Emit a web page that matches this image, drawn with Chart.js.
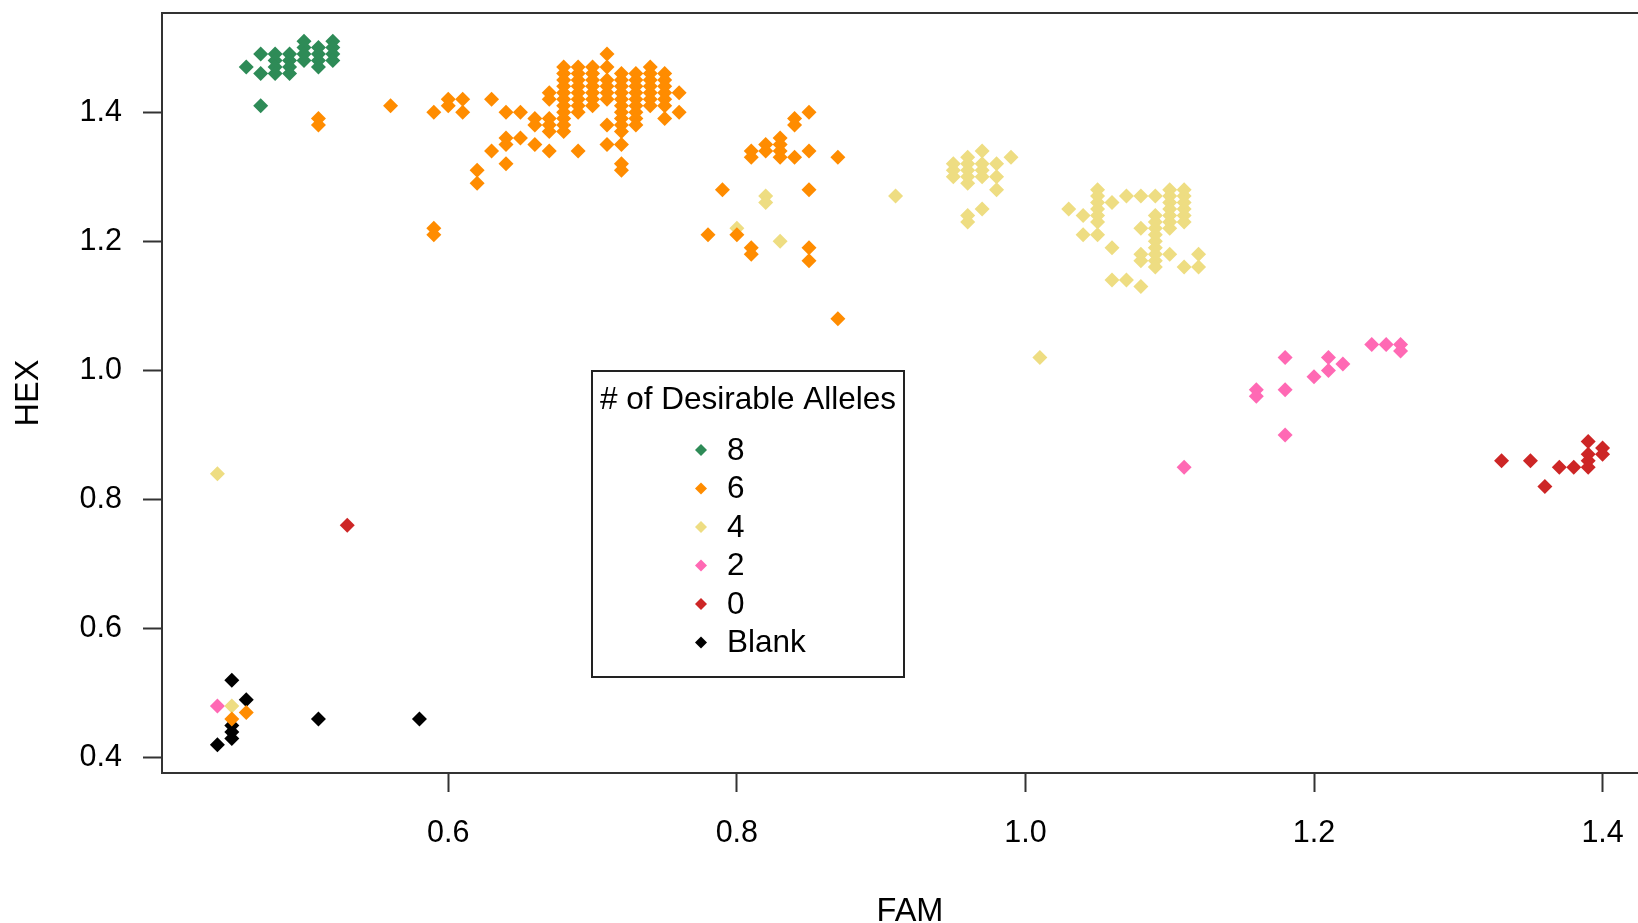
<!DOCTYPE html>
<html><head><meta charset="utf-8">
<script src="https://cdn.jsdelivr.net/npm/chart.js@4.4.0/dist/chart.umd.min.js"></script>
<style>
html,body{margin:0;padding:0;background:#fff;overflow:hidden;width:1638px;height:923px}
#wrap{position:absolute;left:0;top:0;width:1700px;height:923px}
</style>
</head><body><div id="wrap"><canvas id="c" width="1700" height="923"></canvas></div>
<script>
// ---- data (FAM, HEX) ----
const seriesLabels = ['8', '6', '4', '2', '0', 'Blank'];
const seriesColors = ['#2E8B57', '#FF8C00', '#EEDD82', '#FF69B4', '#CD2626', '#000000'];
const legendTitle = '# of Desirable Alleles';
const xTitle = 'FAM';
const yTitle = 'HEX';
const xTicks = [0.6, 0.8, 1.0, 1.2, 1.4];
const yTicks = [0.4, 0.6, 0.8, 1.0, 1.2, 1.4];

const allele8 = [
  [0.46,1.47],[0.47,1.41],[0.47,1.49],[0.47,1.46],
  [0.48,1.49],[0.48,1.48],[0.48,1.47],[0.48,1.46],
  [0.49,1.49],[0.49,1.48],[0.49,1.47],[0.49,1.46],
  [0.50,1.51],[0.50,1.50],[0.50,1.49],[0.50,1.48],
  [0.51,1.50],[0.51,1.49],[0.51,1.48],[0.51,1.47],
  [0.52,1.51],[0.52,1.50],[0.52,1.49],[0.52,1.48]
];
const allele6 = [
  [0.51,1.39],[0.51,1.38],[0.56,1.41],[0.59,1.40],[0.60,1.42],[0.60,1.41],[0.61,1.42],[0.61,1.40],
  [0.59,1.22],[0.59,1.21],[0.63,1.42],[0.64,1.40],[0.65,1.40],[0.62,1.31],[0.62,1.29],[0.63,1.34],
  [0.64,1.36],[0.64,1.35],[0.65,1.36],[0.64,1.32],[0.66,1.39],[0.66,1.38],[0.66,1.35],
  [0.67,1.43],[0.67,1.42],[0.67,1.39],[0.67,1.38],[0.67,1.37],[0.67,1.34],
  [0.68,1.47],[0.68,1.46],[0.68,1.45],[0.68,1.44],[0.68,1.43],[0.68,1.42],[0.68,1.41],[0.68,1.40],[0.68,1.39],[0.68,1.38],[0.68,1.37],
  [0.69,1.47],[0.69,1.46],[0.69,1.45],[0.69,1.44],[0.69,1.43],[0.69,1.42],[0.69,1.41],[0.69,1.40],[0.69,1.34],
  [0.70,1.47],[0.70,1.46],[0.70,1.45],[0.70,1.44],[0.70,1.43],[0.70,1.42],[0.70,1.41],
  [0.71,1.49],[0.71,1.47],[0.71,1.45],[0.71,1.44],[0.71,1.43],[0.71,1.42],[0.71,1.38],[0.71,1.35],
  [0.72,1.46],[0.72,1.45],[0.72,1.44],[0.72,1.43],[0.72,1.42],[0.72,1.41],[0.72,1.40],[0.72,1.39],[0.72,1.38],[0.72,1.37],[0.72,1.35],[0.72,1.32],[0.72,1.31],
  [0.73,1.46],[0.73,1.45],[0.73,1.44],[0.73,1.43],[0.73,1.42],[0.73,1.41],[0.73,1.40],[0.73,1.39],[0.73,1.38],
  [0.74,1.47],[0.74,1.46],[0.74,1.45],[0.74,1.44],[0.74,1.43],[0.74,1.42],[0.74,1.41],
  [0.75,1.46],[0.75,1.45],[0.75,1.44],[0.75,1.43],[0.75,1.42],[0.75,1.41],[0.75,1.39],
  [0.76,1.43],[0.76,1.40],
  [0.85,1.40],[0.84,1.39],[0.84,1.38],[0.83,1.36],[0.83,1.35],[0.83,1.34],[0.83,1.33],[0.82,1.35],[0.82,1.34],
  [0.81,1.34],[0.81,1.33],[0.84,1.33],[0.85,1.34],[0.87,1.33],[0.79,1.28],[0.85,1.28],[0.78,1.21],[0.80,1.21],
  [0.81,1.19],[0.81,1.18],[0.85,1.19],[0.85,1.17],[0.87,1.08],
  [0.46,0.47],[0.45,0.46]
];
const allele4 = [
  [0.44,0.84],[0.45,0.48],[1.01,1.02],
  [0.82,1.27],[0.82,1.26],[0.80,1.22],[0.83,1.20],[0.91,1.27],
  [0.95,1.32],[0.95,1.31],[0.95,1.30],
  [0.96,1.33],[0.96,1.32],[0.96,1.31],[0.96,1.30],[0.96,1.29],
  [0.97,1.34],[0.97,1.32],[0.97,1.31],[0.97,1.30],
  [0.98,1.32],[0.98,1.30],[0.98,1.28],[0.99,1.33],
  [0.96,1.24],[0.96,1.23],[0.97,1.25],
  [1.03,1.25],[1.04,1.24],[1.04,1.21],
  [1.05,1.28],[1.05,1.27],[1.05,1.26],[1.05,1.25],[1.05,1.24],[1.05,1.23],[1.05,1.21],
  [1.06,1.26],[1.06,1.19],[1.07,1.27],[1.08,1.27],[1.08,1.22],[1.09,1.27],
  [1.09,1.24],[1.09,1.23],[1.09,1.22],[1.09,1.21],[1.09,1.20],[1.09,1.19],[1.09,1.18],[1.09,1.17],[1.09,1.16],
  [1.10,1.28],[1.10,1.27],[1.10,1.26],[1.10,1.25],[1.10,1.24],[1.10,1.23],[1.10,1.22],
  [1.11,1.28],[1.11,1.27],[1.11,1.26],[1.11,1.25],[1.11,1.24],[1.11,1.23],
  [1.10,1.18],[1.08,1.18],[1.08,1.17],
  [1.06,1.14],[1.07,1.14],[1.08,1.13],
  [1.12,1.18],[1.12,1.16],[1.11,1.16]
];
const allele2 = [
  [0.44,0.48],[1.11,0.85],[1.16,0.97],[1.16,0.96],[1.18,1.02],[1.18,0.97],[1.18,0.90],
  [1.20,0.99],[1.21,1.02],[1.21,1.00],[1.22,1.01],[1.24,1.04],[1.25,1.04],[1.26,1.04],[1.26,1.03]
];
const allele0 = [
  [0.53,0.76],[1.33,0.86],[1.35,0.86],[1.36,0.82],[1.37,0.85],[1.38,0.85],
  [1.39,0.89],[1.39,0.87],[1.39,0.86],[1.39,0.85],[1.40,0.88],[1.40,0.87]
];
const blank = [
  [0.45,0.52],[0.46,0.49],[0.45,0.45],[0.45,0.44],[0.45,0.43],[0.44,0.42],[0.51,0.46],[0.58,0.46]
];
const seriesData = [allele8, allele6, allele4, allele2, allele0, blank];

// R-style axis limits: data range extended by 4%
const allPts = seriesData.flat();
function rng(idx){
  const v = allPts.map(p => p[idx]);
  const lo = Math.min(...v), hi = Math.max(...v), d = (hi - lo) * 0.04;
  return [lo - d, hi + d];
}
const [xMin, xMax] = rng(0);
const [yMin, yMax] = rng(1);

const FONT = '"Liberation Sans", Arial, sans-serif';
const axisColor = '#333';

function diamond(ctx, x, y, r){
  ctx.beginPath();
  ctx.moveTo(x, y - r); ctx.lineTo(x + r, y); ctx.lineTo(x, y + r); ctx.lineTo(x - r, y);
  ctx.closePath(); ctx.fill();
}

const legendPlugin = {
  id: 'alleleLegend',
  afterDraw(chart){
    const ctx = chart.ctx;
    ctx.save();
    ctx.lineWidth = 2; ctx.strokeStyle = '#222';
    ctx.strokeRect(592, 371, 312, 306);
    ctx.fillStyle = '#000';
    ctx.font = '31.5px ' + FONT;
    ctx.textBaseline = 'middle';
    ctx.textAlign = 'center';
    ctx.fillText(legendTitle, 748, 400);
    ctx.textAlign = 'left';
    chart.data.datasets.forEach((ds, i) => {
      const y = 450 + i * 38.5;
      ctx.fillStyle = ds.backgroundColor;
      diamond(ctx, 701, y, 6);
      ctx.fillStyle = '#000';
      ctx.fillText(ds.label, 727, y + 1);
    });
    ctx.restore();
  }
};

function noPad(s){ s.paddingTop = 0; s.paddingBottom = 0; s.paddingLeft = 0; s.paddingRight = 0; }

new Chart(document.getElementById('c'), {
  type: 'scatter',
  data: {
    datasets: seriesData.map((arr, i) => ({
      label: seriesLabels[i],
      data: arr.map(p => ({x: p[0], y: p[1]})),
      backgroundColor: seriesColors[i],
      borderColor: seriesColors[i],
      pointStyle: 'rectRot',
      pointRadius: 7.5,
      pointBorderWidth: 0,
      pointHoverRadius: 7.5
    }))
  },
  options: {
    responsive: false,
    animation: false,
    events: [],
    layout: {padding: {left: 0, top: 13, right: 42, bottom: 0}},
    plugins: {legend: {display: false}, tooltip: {enabled: false}},
    scales: {
      x: {
        type: 'linear', position: 'bottom', min: xMin, max: xMax,
        afterBuildTicks: s => { s.ticks = xTicks.map(v => ({value: v})); },
        afterFit: s => { s.height = 150; noPad(s); },
        ticks: {callback: v => Number(v).toFixed(1), font: {family: FONT, size: 30.5}, color: '#000', padding: 23, maxRotation: 0, autoSkip: false},
        grid: {drawOnChartArea: false, drawTicks: true, tickLength: 19, tickWidth: 2, tickColor: axisColor},
        border: {display: true, color: axisColor, width: 2},
        title: {display: true, text: xTitle, color: '#000', font: {family: FONT, size: 32.5, lineHeight: 0.8}, padding: {top: 0, bottom: -2}}
      },
      x2: {
        type: 'linear', position: 'top', display: true,
        afterFit: s => { s.height = 0; noPad(s); },
        ticks: {display: false},
        grid: {display: false, drawTicks: false},
        border: {display: true, color: axisColor, width: 2}
      },
      y: {
        type: 'linear', position: 'left', min: yMin, max: yMax,
        afterBuildTicks: s => { s.ticks = yTicks.map(v => ({value: v})); },
        afterFit: s => { s.width = 162; noPad(s); },
        ticks: {callback: v => Number(v).toFixed(1), font: {family: FONT, size: 30.5}, color: '#000', padding: 21, autoSkip: false},
        grid: {drawOnChartArea: false, drawTicks: true, tickLength: 19, tickWidth: 2, tickColor: axisColor},
        border: {display: true, color: axisColor, width: 2},
        title: {display: true, text: yTitle, color: '#000', font: {family: FONT, size: 32.5, lineHeight: 1}, padding: {top: 12.5, bottom: 0}}
      }
    }
  },
  plugins: [legendPlugin]
});
</script>
</body></html>
